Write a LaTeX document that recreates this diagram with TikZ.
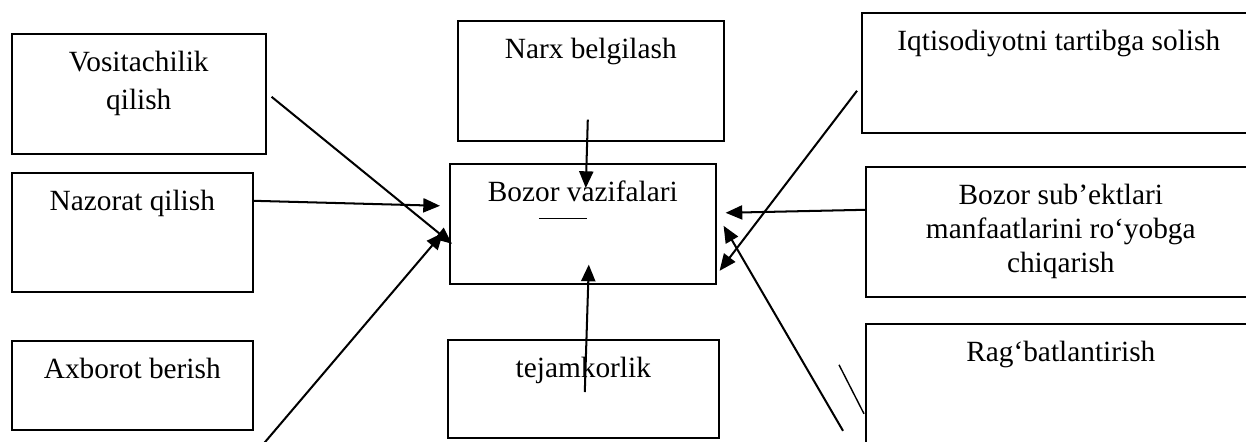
\documentclass[tikz,border=0pt]{standalone}
\usepackage{fontspec}
\setmainfont{Liberation Serif}
\usetikzlibrary{arrows.meta, calc}
\newlength{\pxu}
\setlength{\pxu}{0.02cm}
% box text: width, height, lines (first baseline 38px below the top)
\newcommand{\boxtext}[3]{\parbox[c][#2\pxu][t]{#1\pxu}{\centering\rule{0pt}{38\pxu}#3}}

\begin{document}
\begin{tikzpicture}[x=0.02cm, y=-0.02cm,
    fbox/.style={draw, line width=0.9pt, inner sep=0pt, anchor=north west,
                 font=\fontsize{16.7}{21.6}\selectfont},
    arr/.style={-{Triangle[length=9.5pt, width=8pt]}, line width=1.15pt}]
    \path[use as bounding box, clip] (0,0) rectangle (1246,441);

    % left column
    \node[fbox] (vos) at (11,33) {\boxtext{254}{120}{Vositachilik\\qilish}};
    \node[fbox] (naz) at (11,172) {\boxtext{241}{119}{Nazorat qilish}};
    \node[fbox] (axb) at (11,340) {\boxtext{241}{89}{Axborot berish}};

    % middle column
    \node[fbox] (narx) at (457,20) {\boxtext{266}{120}{Narx belgilash}};
    \node[fbox] (boz) at (449,163) {\boxtext{266}{120}{Bozor vazifalari\\\rule[21\pxu]{48\pxu}{0.6pt}\hspace*{40\pxu}}};
    \node[fbox] (tej) at (447,339) {\boxtext{271}{98}{tejamkorlik}};

    % right column
    \node[fbox] (iqt) at (861,12) {\boxtext{394}{120}{Iqtisodiyotni tartibga solish}};
    \node[fbox] (sub) at (865,166) {\boxtext{390}{130}{Bozor sub’ektlari\\[-4\pxu]manfaatlarini ro‘yobga\\[-4\pxu]chiqarish}};
    \node[fbox] (rag) at (865,323) {\boxtext{390}{122}{Rag‘batlantirish}};

    % arrows
    \draw[arr] ($(vos.east)+(5,3)$) -- ($(boz.west)+(3,20)$);
    \draw[arr] ($(naz.east)+(0,-31.5)$) -- ($(boz.west)+(-9,-18)$);
    \draw[arr] ($(axb.south east)+(11,12)$) -- ($(boz.west)+(-6,9)$);
    \draw[arr] ($(narx.south)+(-3,-22)$) -- ($(boz.north)+(3,25)$);
    \draw[arr] ($(tej.north)+(1.5,53)$) -- ($(boz.south)+(6,-20)$);
    \draw[arr] ($(sub.west)+(0,-22)$) -- ($(boz.east)+(9,-11)$);
    \draw[arr] ($(iqt.west)+(-4,18)$) -- ($(boz.east)+(3,47)$);
    \draw[arr] ($(rag.west)+(-22,46)$) -- ($(boz.east)+(7,2)$);
    \draw[line width=0.8pt] ($(rag.west)+(-26,-20)$) -- ($(rag.west)+(-1,29)$);
\end{tikzpicture}
\end{document}
